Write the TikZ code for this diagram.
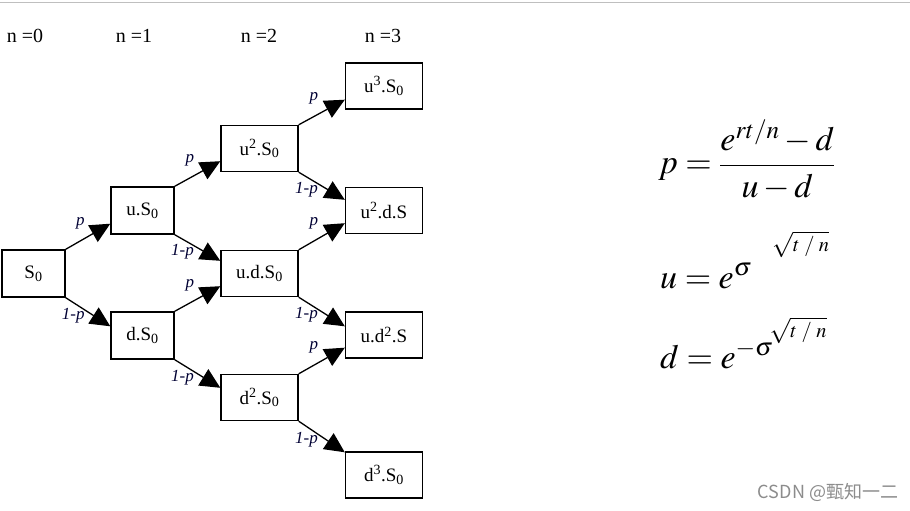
\documentclass[tikz,border=0pt]{standalone}
\usepackage{mathptmx}
\usepackage[no-math]{fontspec}
\setmainfont{Liberation Serif}
\newfontfamily\cjkfont{Noto Sans CJK SC}
\usetikzlibrary{arrows.meta}

\begin{document}
\begin{tikzpicture}[x=1pt, y=-1pt,
  box/.style={draw=black, line width=1.4pt, minimum width=63pt, minimum height=47pt,
              inner sep=0pt, font=\fontsize{19}{21}\selectfont},
  wbox/.style={box, minimum width=77pt, minimum height=46pt},
  ar/.style={-{Triangle[length=20pt, width=19pt]}, line width=1.3pt},
  lbl/.style={font=\fontsize{17}{19}\selectfont\itshape, text=black!80!blue, inner sep=0pt},
  hdr/.style={font=\fontsize{20}{22}\selectfont},
  eq/.style={font=\fontsize{34}{40}\selectfont, inner sep=0pt}
]
\useasboundingbox (0,0) rectangle (910,511);
\draw[black!25, line width=1pt] (0,2.5) -- (910,2.5);

% step headers
\node[hdr] (h0) at (25,36) {n =0};
\node[hdr] (h1) at (134,36) {n =1};
\node[hdr] (h2) at (259,36) {n =2};
\node[hdr] (h3) at (383,36) {n =3};

% tree
\node[box] (s0) at (33.5,273.5) {S\textsubscript{0}};
\node[box] (us) at (142.5,210.5) {u.S\textsubscript{0}};
\node[box] (ds) at (142.5,335.5) {d.S\textsubscript{0}};
\node[wbox] (uus) at (259.5,148.5) {u\textsuperscript{2}.S\textsubscript{0}};
\node[wbox] (uds) at (259.5,273.5) {u.d.S\textsubscript{0}};
\node[wbox] (dds) at (259.5,397.5) {d\textsuperscript{2}.S\textsubscript{0}};
\node[wbox] (uuus) at (384,86) {u\textsuperscript{3}.S\textsubscript{0}};
\node[wbox] (uuds) at (384,210.5) {u\textsuperscript{2}.d.S};
\node[wbox] (udds) at (384,335) {u.d\textsuperscript{2}.S};
\node[wbox] (ddds) at (384,475) {d\textsuperscript{3}.S\textsubscript{0}};

\draw[ar] (s0.north east) -- node[lbl, pos=.33, yshift=18pt]{p} ([yshift=11pt]us.south west);
\draw[ar] (s0.south east) -- node[lbl, pos=.17, yshift=-13pt]{1-p} ([yshift=-15pt]ds.north west);
\draw[ar] (us.north east) -- node[lbl, pos=.33, yshift=18pt]{p} ([yshift=11pt]uus.south west);
\draw[ar] (us.south east) -- node[lbl, pos=.17, yshift=-13pt]{1-p} ([yshift=-11pt]uds.north west);
\draw[ar] (ds.north east) -- node[lbl, pos=.33, yshift=18pt]{p} ([yshift=11pt]uds.south west);
\draw[ar] (ds.south east) -- node[lbl, pos=.17, yshift=-13pt]{1-p} ([yshift=-14pt]dds.north west);
\draw[ar] (uus.north east) -- node[lbl, pos=.33, yshift=18pt]{p} ([yshift=10pt]uuus.south west);
\draw[ar] (uus.south east) -- node[lbl, pos=.17, yshift=-13pt]{1-p} ([yshift=-13pt]uuds.north west);
\draw[ar] (uds.north east) -- node[lbl, pos=.33, yshift=18pt]{p} ([yshift=11pt]uuds.south west);
\draw[ar] (uds.south east) -- node[lbl, pos=.17, yshift=-13pt]{1-p} ([yshift=-15pt]udds.north west);
\draw[ar] (dds.north east) -- node[lbl, pos=.33, yshift=18pt]{p} ([yshift=11pt]udds.south west);
\draw[ar] (dds.south east) -- node[lbl, pos=.17, yshift=-13pt]{1-p} ([yshift=-1pt]ddds.north west);

% formulas
\node[eq, anchor=west] (pf) at (658,160) {$p=\displaystyle\frac{e^{rt/n}-d}{u-d}$};
\node[eq, anchor=base west] (uf) at (660,288) {$u=e^{\sigma}\hspace{20pt}\raisebox{37pt}{$\scriptscriptstyle\sqrt{t\;/\;n\vphantom{I}}$}$};
\node[eq, anchor=base west] (df) at (660,368) {$d=e^{-\sigma}\hspace{-4pt}\raisebox{31pt}{$\scriptscriptstyle\sqrt{t\;/\;n\vphantom{I}}$}$};

\node[text=black!45, font=\cjkfont\fontsize{18}{20}\selectfont] (wm) at (828,492) {CSDN @甄知一二};
\end{tikzpicture}
\end{document}
